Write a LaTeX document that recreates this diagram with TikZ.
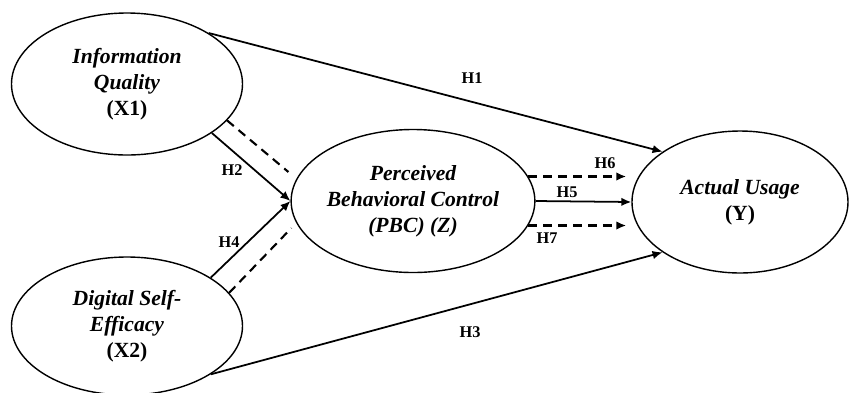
\documentclass[tikz,border=0pt]{standalone}
\usepackage{fontspec}
\setmainfont{Liberation Serif}
\usetikzlibrary{shapes.geometric,arrows.meta}

\begin{document}
\begin{tikzpicture}[
  construct/.style={draw, ellipse, line width=0.8pt, align=center, inner sep=0pt,
    font=\fontsize{12.3}{14.8}\selectfont\bfseries\itshape},
  path/.style={-{Latex[length=2mm,width=1.7mm]}, line width=1pt},
  dashpath/.style={path, line width=1.2pt, dash pattern=on 5pt off 3.5pt},
  hyp/.style={font=\fontsize{9.3}{10}\selectfont\bfseries}]
\useasboundingbox (0,0) rectangle (17,-7.84);
\node[construct, minimum width=4.62cm, minimum height=2.84cm] (IQ) at (2.54,-1.68) {Information\\Quality\\\upshape(X1)};
\node[construct, minimum width=4.62cm, minimum height=2.76cm] (DSE) at (2.54,-6.52) {Digital Self-\\Efficacy\\\upshape(X2)};
\node[construct, minimum width=4.64cm, minimum height=2.86cm] (PBC) at (8.26,-4.02) {Perceived\\Behavioral Control\\(PBC) (Z)};
\node[construct, minimum width=4.32cm, minimum height=2.84cm] (AU) at (14.8,-4.04) {Actual Usage\\\upshape(Y)};
\draw[path] (IQ.32.5) -- (AU.147);
\draw[path] (DSE.-30) -- (AU.213);
\draw[path] (IQ.-30.5) -- (PBC.west);
\draw[dashpath, -] (IQ.-20) -- ([xshift=-0.04cm, yshift=0.58cm] PBC.west);
\draw[path] (DSE.30) -- (PBC.west);
\draw[dashpath, -] (DSE.18) -- ([xshift=0.02cm, yshift=-0.54cm] PBC.west);
\draw[dashpath, shorten >=0.1cm] (PBC.12) -- (PBC.12 -| AU.west);
\draw[path] (PBC.east) -- (AU.west);
\draw[dashpath, shorten >=0.1cm] (PBC.-12) -- (PBC.-12 -| AU.west);
\node[hyp] (h1) at (9.44,-1.56) {H1};
\node[hyp] (h2) at (4.64,-3.40) {H2};
\node[hyp] (h3) at (9.40,-6.64) {H3};
\node[hyp] (h4) at (4.58,-4.84) {H4};
\node[hyp] (h5) at (11.34,-3.84) {H5};
\node[hyp] (h6) at (12.10,-3.26) {H6};
\node[hyp] (h7) at (10.94,-4.76) {H7};
\end{tikzpicture}
\end{document}
